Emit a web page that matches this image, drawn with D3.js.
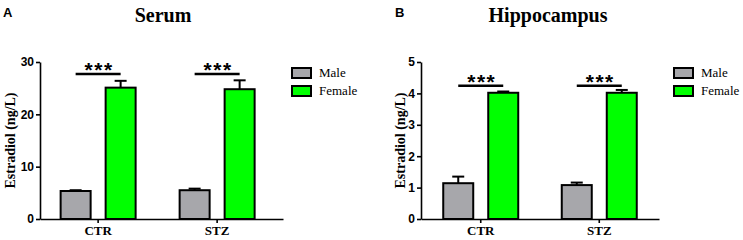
<!DOCTYPE html>
<html lang="en">
<head>
<meta charset="UTF-8">
<title>estradiol-bars</title>
<script src="https://cdn.jsdelivr.net/npm/d3@7/dist/d3.min.js"></script>
<style>
    body { margin: 0; background: #fff; }
    svg { display: block; }
    .axis path, .axis line { stroke: #000; stroke-width: 1.6px; }
    .yaxis text { font-family: Arial, "Liberation Sans", sans-serif; font-weight: bold; font-size: 12px; fill: #000; }
    .xaxis text { font-family: "Times New Roman", "Liberation Serif", serif; font-weight: bold; font-size: 13px; fill: #000; }
</style>
</head>
<body>
<svg id="chart"></svg>
<script>
// data
var groups = ["CTR", "STZ"];
var series = ["Male", "Female"];
var colors = ["#a7a7ab", "#00ff00"];

var serumMale = [5.35, 5.5];
var serumMaleSem = [0.15, 0.3];
var serumFemale = [25.1, 24.8];
var serumFemaleSem = [1.3, 1.7];
var serumSig = [27.7, 27.7];
var serumTicks = [0, 10, 20, 30];

var hippoMale = [1.14, 1.08];
var hippoMaleSem = [0.21, 0.08];
var hippoFemale = [4.02, 4.02];
var hippoFemaleSem = [0.04, 0.09];
var hippoSig = [4.24, 4.24];
var hippoTicks = [0, 1, 2, 3, 4, 5];

var W = 743, H = 240;
var svg = d3.select("#chart").attr("width", W).attr("height", H);

// panel settings
var panels = [
    { letter: "A", title: "Serum", left: 40, right: 283, titleX: 163, letterX: 3, labelX: 15,
      pi: 0.5, po: 0.271, align: 0.44,
      male: serumMale, maleSem: serumMaleSem, female: serumFemale, femaleSem: serumFemaleSem,
      sig: serumSig, ticks: serumTicks, legendX: 292 },
    { letter: "B", title: "Hippocampus", left: 421, right: 659, titleX: 548, letterX: 395, labelX: 405,
      pi: 0.5, po: 0.254, align: 0.5,
      male: hippoMale, maleSem: hippoMaleSem, female: hippoFemale, femaleSem: hippoFemaleSem,
      sig: hippoSig, ticks: hippoTicks, legendX: 674 }
];

var yTop = 62, yBottom = 219;

panels.forEach(function (p) {
    var g = svg.append("g");

    var x = d3.scaleBand()
        .domain(groups)
        .range([p.left, p.right])
        .paddingInner(p.pi)
        .paddingOuter(p.po)
        .align(p.align);

    var y = d3.scaleLinear()
        .domain([0, d3.max(p.ticks)])
        .range([yBottom, yTop]);

    // bars inside a group: width 30, gap 15
    var xs = d3.scaleBand()
        .domain(series)
        .range([-37.5, 37.5])
        .paddingInner(1 / 3);

    var rows = [];
    groups.forEach(function (grp, i) {
        rows.push({ g: grp, s: "Male", v: p.male[i], e: p.maleSem[i], c: colors[0] });
        rows.push({ g: grp, s: "Female", v: p.female[i], e: p.femaleSem[i], c: colors[1] });
    });

    function cx(d) { return x(d.g) + x.bandwidth() / 2 + xs(d.s); }

    // error bars (upper only)
    g.selectAll(".err").data(rows).enter().append("line")
        .attr("x1", function (d) { return cx(d) + xs.bandwidth() / 2; })
        .attr("x2", function (d) { return cx(d) + xs.bandwidth() / 2; })
        .attr("y1", function (d) { return y(d.v); })
        .attr("y2", function (d) { return y(d.v + d.e); })
        .attr("stroke", "#000").attr("stroke-width", 2);
    g.selectAll(".cap").data(rows).enter().append("line")
        .attr("x1", function (d) { return cx(d) + xs.bandwidth() / 2 - 6; })
        .attr("x2", function (d) { return cx(d) + xs.bandwidth() / 2 + 6; })
        .attr("y1", function (d) { return y(d.v + d.e); })
        .attr("y2", function (d) { return y(d.v + d.e); })
        .attr("stroke", "#000").attr("stroke-width", 2);

    // bars
    g.selectAll(".bar").data(rows).enter().append("rect")
        .attr("x", function (d) { return cx(d); })
        .attr("y", function (d) { return y(d.v); })
        .attr("width", xs.bandwidth())
        .attr("height", function (d) { return yBottom - y(d.v); })
        .attr("fill", function (d) { return d.c; })
        .attr("stroke", "#000").attr("stroke-width", 2);

    // significance
    groups.forEach(function (grp, i) {
        var c = x(grp) + x.bandwidth() / 2;
        var x1 = c + xs("Male") + xs.bandwidth() / 2;
        var x2 = c + xs("Female") + xs.bandwidth() / 2;
        g.append("line")
            .attr("x1", x1).attr("x2", x2)
            .attr("y1", y(p.sig[i])).attr("y2", y(p.sig[i]))
            .attr("stroke", "#000").attr("stroke-width", 2.5);
        g.append("text")
            .attr("x", (x1 + x2) / 2 + 1)
            .attr("y", y(p.sig[i]) + 3)
            .attr("text-anchor", "middle")
            .attr("font-family", "Arial, 'Liberation Sans', sans-serif")
            .attr("font-weight", "bold")
            .attr("font-size", 21)
            .attr("letter-spacing", 1.5)
            .text("***");
    });

    // axes
    g.append("g")
        .attr("class", "axis yaxis")
        .attr("transform", "translate(" + p.left + ",0)")
        .call(d3.axisLeft(y).tickValues(p.ticks).tickFormat(d3.format("d"))
            .tickSize(4).tickSizeOuter(0).tickPadding(2));

    g.append("g")
        .attr("class", "axis xaxis")
        .attr("transform", "translate(0," + yBottom + ")")
        .call(d3.axisBottom(x).tickSize(4).tickSizeOuter(0).tickPadding(3));

    // y label
    g.append("text")
        .attr("transform", "translate(" + p.labelX + "," + ((yTop + yBottom) / 2) + ") rotate(-90)")
        .attr("text-anchor", "middle")
        .attr("font-family", "'Times New Roman', 'Liberation Serif', serif")
        .attr("font-weight", "bold")
        .attr("font-size", 14)
        .text("Estradiol (ng/L)");

    // title and letter
    g.append("text")
        .attr("x", p.titleX).attr("y", 22)
        .attr("text-anchor", "middle")
        .attr("font-family", "'Times New Roman', 'Liberation Serif', serif")
        .attr("font-weight", "bold")
        .attr("font-size", 20)
        .text(p.title);
    g.append("text")
        .attr("x", p.letterX).attr("y", 17)
        .attr("font-family", "Arial, 'Liberation Sans', sans-serif")
        .attr("font-weight", "bold")
        .attr("font-size", 13)
        .text(p.letter);

    // legend
    var lg = g.append("g").attr("transform", "translate(" + p.legendX + ",68)");
    series.forEach(function (s, i) {
        lg.append("rect")
            .attr("x", 0).attr("y", i * 18)
            .attr("width", 19).attr("height", 10)
            .attr("fill", colors[i])
            .attr("stroke", "#000").attr("stroke-width", 2);
        lg.append("text")
            .attr("x", 27).attr("y", i * 18 + 9)
            .attr("font-family", "'Times New Roman', 'Liberation Serif', serif")
            .attr("font-size", 13)
            .text(s);
    });
});
</script>
</body>
</html>
